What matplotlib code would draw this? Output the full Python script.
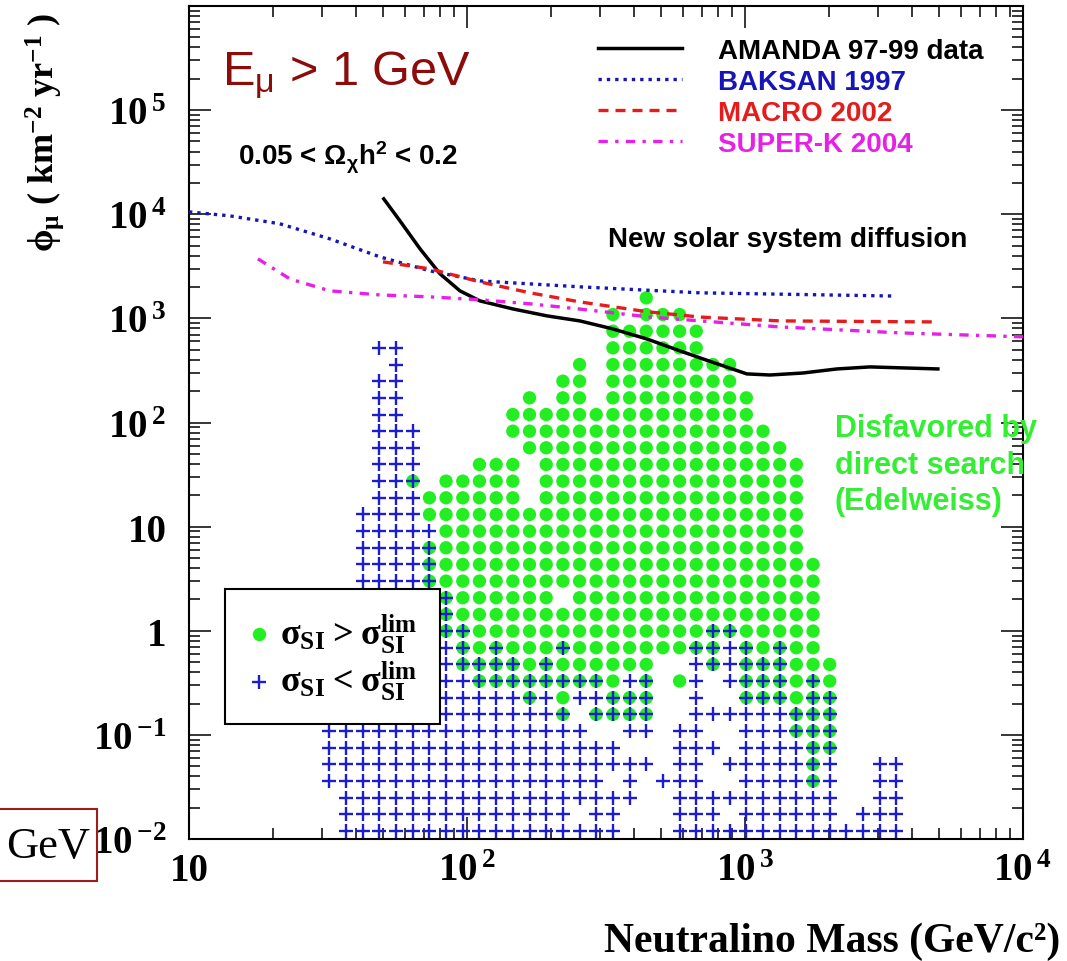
import numpy as np
import matplotlib
matplotlib.use("Agg")
from matplotlib import pyplot as plt
from matplotlib.ticker import LogLocator, NullFormatter
import matplotlib.patches as patches

# ---------------------------------------------------------------------------
# scan grid: neutralino mass bins (GeV/c^2) and muon flux bins (km^-2 yr^-1)
mass_bins = [32.0, 36.7, 42.2, 48.4, 55.6, 63.8, 73.3, 84.1, 96.6, 110.9,
             127.4, 146.2, 167.9, 192.8, 221.3, 254.1, 291.7, 335.0, 384.6, 441.6,
             507.0, 582.1, 668.3, 767.4, 881.0, 1011.6, 1161.4, 1333.5, 1531., 1758.,
             2018., 2317., 2661., 3055., 3508.]
flux_bins = [0.01194, 0.01726, 0.02495, 0.03606, 0.05212, 0.0753, 0.1089, 0.1574,
             0.2275, 0.3289, 0.4753, 0.6871, 0.9931, 1.435, 2.075, 2.999, 4.335,
             6.266, 9.057, 13.09, 18.92, 27.35, 39.54, 57.15, 82.6, 119.4, 172.6,
             249.5, 360.6, 521.2, 753.4, 1089., 1574.]

# model points, top flux bin first, one char per mass bin
# o : sigma_SI > lim,  + : sigma_SI < lim,  x : both,  . : none
scan_rows = [
    "..... ..... ..... ....o ..... ..... .....",
    "..... ..... ..... ..o.o oo... ..... .....",
    "..... ..... ..... ..ooo ooo.. ..... .....",
    "...++ ..... ..... ..ooo ooo.. ..... .....",
    "....+ ..... ..... o.ooo ooooo ..... .....",
    "...++ ..... ....o o.ooo ooooo ..... .....",
    "...++ ..... ..o.o o.ooo ooooo o.... .....",
    "...++ ..... .oooo ooooo ooooo o.... .....",
    "...++ +.... .oooo ooooo ooooo oo... .....",
    "...++ +.... ..ooo ooooo ooooo ooo.. .....",
    "...++ +...o oo.oo ooooo ooooo oooo. .....",
    "...++ x.ooo oo.oo ooooo ooooo oooo. .....",
    "...++ +oooo oo.oo ooooo ooooo oooo. .....",
    "..+++ +oooo ooooo ooooo ooooo oooo. .....",
    "..+++ ++ooo ooooo ooooo ooooo oooo. .....",
    "..+++ +xooo ooooo ooooo ooooo oooo. .....",
    "..+++ +xooo ooooo ooooo ooooo ooooo .....",
    "..+++ +xooo ooooo ooooo ooooo ooooo .....",
    "..+++ ++xoo oooo. ooooo ooooo ooooo .....",
    "..+++ ++xoo ooooo ooooo ooooo ooooo .....",
    "..+++ ++xxo ooooo ooooo oooxx ooooo .....",
    "..+++ +++xo xooox ooooo ooxx+ xoxoo .....",
    "..+++ +++xx xxoxo ooooo ..+x+ xxxoo o....",
    "..+++ ++++x xxxxx xxo+x .o+.+ xxxox o....",
    "..+++ +++++ ++x+o ++xxx ..+.. xxxox x....",
    "+++++ +++++ ++++x .xxxx ..+++ +++xx x....",
    "+++++ +++++ +++++ +..++ .++.. +++xx x....",
    "+++++ +++++ +++++ +++.. .+++. ++++x x....",
    "+++++ +++++ +++++ +++++ .++.+ ++++x +..++",
    "+++++ +++++ +++++ ++.+. +++.. ++++x +..++",
    ".++++ +++++ +++++ ++++. .++++ +++++ +..++",
    ".++++ +++++ +++++ .++.. .+++. +++++ +.+++",
    ".++++ +++++ +++++ +++.. .++++ +++++ +++++",
]

# experimental limits
amanda_m = [50.2, 57.4, 67.8, 80.0, 94.4, 111.4, 146.2, 194.1, 254.7, 335.0,
            443.6, 583.4, 706.3, 1016., 1230., 1618., 2143., 2818., 4943.]
amanda_f = [14060., 8650., 4656., 2679., 1837., 1472., 1233., 1057., 946., 792.,
            635., 488., 408., 293., 286., 299., 327., 342., 327.]
baksan_m = [10.0, 14.0, 21.2, 32.1, 48.6, 73.6, 111.4, 254.7, 688.7, 3404.]
baksan_f = [10540., 9660., 8110., 5810., 3900., 2860., 2290., 2010., 1760., 1640.]
macro_m = [49.9, 73.6, 111.4, 168.7, 254.7, 443.6, 688.7, 1337., 4710.]
macro_f = [3490., 2990., 2240., 1760., 1440., 1160., 1030., 946., 925.]
superk_m = [17.7, 23.1, 32.1, 48.6, 73.6, 111.4, 168.7, 254.7, 455.0, 1337., 3614., 10000.]
superk_f = [3730., 2390., 1840., 1680., 1610., 1510., 1380., 1230., 1030., 828., 726., 665.]

limit_labels = ["AMANDA 97-99 data", "BAKSAN 1997", "MACRO 2002", "SUPER-K 2004"]
limit_colors = ["black", "#1616b8", "#e41c1c", "#e620e6"]

x_ticks = [10, 100, 1000, 10000]
x_tick_labels = ["10", r"$\mathregular{10^{\,2}}$", r"$\mathregular{10^{\,3}}$",
                 r"$\mathregular{10^{\,4}}$"]
y_ticks = [1e-2, 1e-1, 1, 10, 1e2, 1e3, 1e4, 1e5, 1e6]
y_tick_labels = [r"$\mathregular{10^{\,{-2}}}$", r"$\mathregular{10^{\,{-1}}}$", "1", "10",
                 r"$\mathregular{10^{\,2}}$", r"$\mathregular{10^{\,3}}$",
                 r"$\mathregular{10^{\,4}}$", r"$\mathregular{10^{\,5}}$", ""]

GREEN = "#22ee22"
BLUE = "#1c1cd0"
###########################################################################

plt.rcParams['font.family'] = ['Liberation Serif', 'DejaVu Serif']
plt.rcParams['font.weight'] = 'bold'

grid = [r.replace(' ', '') for r in scan_rows]
nrow = len(grid)
dot_x, dot_y, crs_x, crs_y = [], [], [], []
for k, row in enumerate(grid):
    fy = flux_bins[nrow - 1 - k]
    for i, c in enumerate(row):
        if c in 'ox':
            dot_x.append(mass_bins[i]); dot_y.append(fy)
        if c in '+x':
            crs_x.append(mass_bins[i]); crs_y.append(fy)

fig = plt.figure(figsize=(10.67, 9.62), dpi=100)
ax = fig.add_axes([0.1771, 0.1268, 0.7816, 0.8659])
ax.set_xscale('log')
ax.set_yscale('log')
ax.set_xlim(10, 1e4)
ax.set_ylim(1e-2, 1e6)

hdot = ax.scatter(dot_x, dot_y, s=92, c=GREEN, edgecolors='none', zorder=2)
hcrs = ax.scatter(crs_x, crs_y, s=95, marker='+', c=BLUE, linewidths=1.7, zorder=3)

l1, = ax.plot(amanda_m, amanda_f, '-', c=limit_colors[0], lw=2.5, zorder=5)
l2, = ax.plot(baksan_m, baksan_f, ls=(0, (1, 1.5)), c=limit_colors[1], lw=2.4, zorder=5)
l3, = ax.plot(macro_m, macro_f, ls=(0, (3, 2.1)), c=limit_colors[2], lw=2.4, zorder=5)
l4, = ax.plot(superk_m, superk_f, ls=(0, (2.8, 2.2, 1, 2.2)), c=limit_colors[3],
              lw=2.4, zorder=5)

# axes, ROOT style
ax.set_xticks(x_ticks)
ax.set_xticklabels(x_tick_labels)
ax.set_yticks(y_ticks)
ax.set_yticklabels(y_tick_labels)
for axis in (ax.xaxis, ax.yaxis):
    axis.set_minor_locator(LogLocator(base=10, subs=np.arange(2, 10), numticks=20))
    axis.set_minor_formatter(NullFormatter())
ax.tick_params(which='both', direction='in', top=True, right=True, width=1.1,
               labelsize=28)
ax.tick_params(which='major', length=16)
ax.tick_params(which='minor', length=8)
ax.tick_params(axis='y', pad=16)
ax.tick_params(axis='x', pad=9)
for s in ax.spines.values():
    s.set_linewidth(1.5)

# legends
sans = dict(family='Liberation Sans', weight='bold', size=20)
leg1 = ax.legend([l1, l2, l3, l4], limit_labels, loc='upper left',
                 bbox_to_anchor=(0.4904, 0.9616), borderaxespad=0, borderpad=0,
                 frameon=False, handlelength=3.02, handletextpad=1.3,
                 labelspacing=0.18, prop=sans)
for t, c in zip(leg1.get_texts(), limit_colors):
    t.set_color(c)
ax.add_artist(leg1)

leg2 = ax.legend([hdot, hcrs],
                 [r"$\mathregular{\sigma_{SI} > \sigma_{SI}^{lim}}$",
                  r"$\mathregular{\sigma_{SI} < \sigma_{SI}^{lim}}$"],
                 loc='lower left', bbox_to_anchor=(0.043, 0.138, 0.258, 0.168),
                 mode='expand', borderaxespad=0, borderpad=0.6, handlelength=0.72,
                 handletextpad=0.2, labelspacing=0.1, scatterpoints=1,
                 fancybox=False, framealpha=1,
                 prop=dict(family='Liberation Serif', weight='bold', size=26))
leg2.get_frame().set_edgecolor('black')
leg2.get_frame().set_linewidth(1.5)

# annotations
ax.text(0.0396, 0.9064, r"E$\mathregular{_{\mu}}$ > 1 GeV", transform=ax.transAxes,
        family='Liberation Sans', weight='normal', size=35, color='#8c0c0c',
        va='baseline')
ax.text(0.0588, 0.8103, r"0.05 < $\mathregular{\Omega_{\chi}h^{2}}$ < 0.2",
        transform=ax.transAxes, va='baseline', **sans)
ax.text(0.5024, 0.7119, "New solar system diffusion", transform=ax.transAxes,
        va='baseline', **sans)
ax.text(0.7746, 0.5110, "Disfavored by\ndirect search\n(Edelweiss)",
        transform=ax.transAxes, va='top', color='#33ee33', linespacing=1.27,
        family='Liberation Sans', weight='bold', size=22)

fig.text(1060 / 1067, 1 - 952 / 962, "Neutralino Mass (GeV/c²)", ha='right',
         va='baseline', size=30)
fig.text(45 / 1067, 1 - 252 / 962,
         r"$\mathregular{\phi_{\mu}}$ ( km$\mathregular{^{-2}}$ yr$\mathregular{^{-1}}$ )",
         rotation=90, ha='center', va='bottom', size=26)

# boxed overlay at lower left
fig.add_artist(patches.Rectangle((-0.01, 0.0832), 0.1009, 0.0748,
                                 transform=fig.transFigure, fc='white',
                                 ec='#a01c1c', lw=1.5))
fig.text(0.045, 1 - 858 / 962, "GeV", ha='center', va='baseline', size=32,
         weight='normal', zorder=3)

plt.savefig('out.png', dpi=100)
